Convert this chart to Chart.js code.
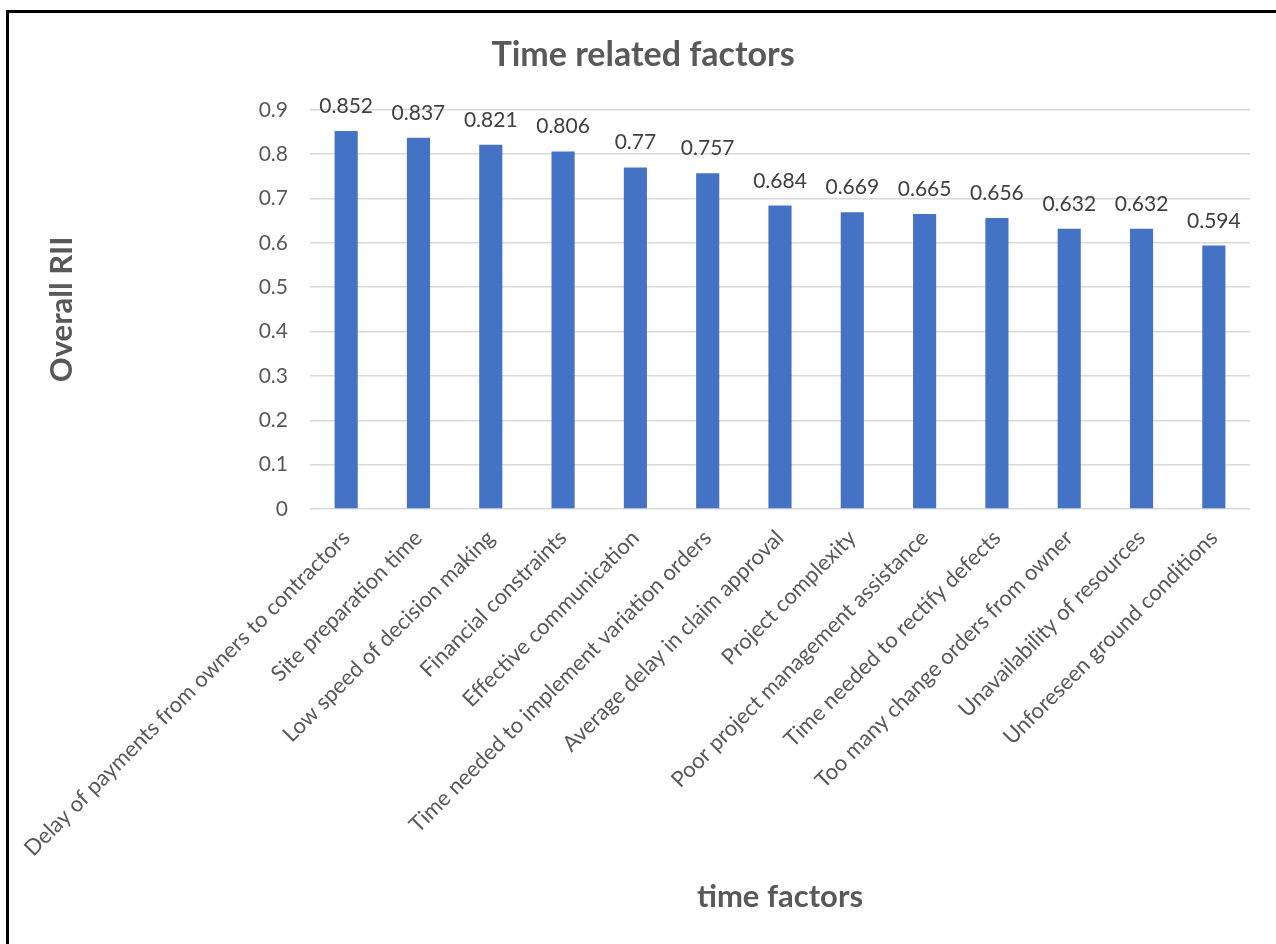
<!DOCTYPE html>
<html>
<head>
<meta charset="utf-8">
<title>Time related factors</title>
<script src="https://cdn.jsdelivr.net/npm/chart.js@4/dist/chart.umd.min.js"></script>
<style>
    html, body { margin: 0; padding: 0; background: #fff; }
    #wrap { position: relative; width: 1276px; height: 944px; }
</style>
</head>
<body>
<div id="wrap"><canvas id="rii"></canvas></div>
<script>
// ── Data ─────────────────────────────────────────────────────────────────────

const FACTORS = [
    "Delay of payments from owners to contractors",
    "Site preparation time",
    "Low speed of decision making",
    "Financial constraints",
    "Effective communication",
    "Time needed to implement variation orders",
    "Average delay in claim approval",
    "Project complexity",
    "Poor project management assistance",
    "Time needed to rectify defects",
    "Too many change orders from owner",
    "Unavailability of resources",
    "Unforeseen ground conditions",
];

const OVERALL_RII = [0.852, 0.837, 0.821, 0.806, 0.77, 0.757, 0.684, 0.669, 0.665, 0.656, 0.632, 0.632, 0.594];

const Y_MIN = 0;
const Y_MAX = 0.9;
const Y_STEP = 0.1;

// ── Styles ───────────────────────────────────────────────────────────────────

const FONT = "Lato, 'Open Sans', sans-serif";
const BAR_BLUE = "#4472c4";
const AXIS_GREY = "#595959";
const GRID_GREY = "#d9d9d9";

// frame lines along the top and left of the figure
const framePlugin = {
    id: "frame",
    beforeDraw(chart) {
        const ctx = chart.ctx;
        ctx.save();
        ctx.fillStyle = "#000";
        ctx.fillRect(6, 10, 3, chart.height - 10);
        ctx.fillRect(6, 10, chart.width - 6, 3);
        ctx.restore();
    },
};

// value printed above every bar
const valueLabels = {
    id: "valueLabels",
    afterDatasetsDraw(chart) {
        const ctx = chart.ctx;
        const meta = chart.getDatasetMeta(0);
        const values = chart.data.datasets[0].data;
        ctx.save();
        ctx.font = `21px ${FONT}`;
        ctx.fillStyle = "#404040";
        ctx.textAlign = "center";
        ctx.textBaseline = "alphabetic";
        meta.data.forEach((bar, i) => {
            ctx.fillText(String(values[i]), bar.x, bar.y - 18);
        });
        ctx.restore();
    },
};

new Chart(document.getElementById("rii"), {
    type: "bar",
    data: {
        labels: FACTORS,
        datasets: [{
            label: "Overall RII",
            data: OVERALL_RII,
            backgroundColor: BAR_BLUE,
            borderWidth: 0,
            barPercentage: 0.32,
            categoryPercentage: 1,
        }],
    },
    options: {
        responsive: true,
        maintainAspectRatio: false,
        animation: false,
        layout: { padding: { top: 0, left: 36, right: 26, bottom: 0 } },
        plugins: {
            legend: { display: false },
            tooltip: { enabled: false },
            title: {
                display: true,
                text: "Time related factors",
                color: AXIS_GREY,
                font: { family: FONT, size: 34, weight: "bold", lineHeight: 1.2 },
                padding: { top: 35, bottom: 34 },
            },
        },
        scales: {
            x: {
                grid: { display: false, drawTicks: false },
                border: { display: false },
                ticks: {
                    autoSkip: false,
                    maxRotation: 45,
                    minRotation: 45,
                    padding: 16,
                    color: AXIS_GREY,
                    font: { family: FONT, size: 22 },
                },
                title: {
                    display: true,
                    text: "time factors",
                    color: AXIS_GREY,
                    font: { family: FONT, size: 31, weight: "bold", lineHeight: 1.2 },
                    padding: { top: 0, bottom: 28 },
                },
                afterFit(scale) {
                    scale.height = 435;
                    scale.paddingLeft = 0;
                    scale.paddingRight = 0;
                },
            },
            y: {
                min: Y_MIN,
                max: Y_MAX,
                grid: { color: GRID_GREY, lineWidth: 1.5, drawTicks: false },
                border: { display: false },
                ticks: {
                    stepSize: Y_STEP,
                    padding: 22,
                    color: AXIS_GREY,
                    font: { family: FONT, size: 21 },
                    callback: (v) => String(+v.toFixed(1)),
                },
                title: {
                    display: true,
                    text: "Overall RII",
                    color: AXIS_GREY,
                    font: { family: FONT, size: 31, weight: "bold", lineHeight: 1.2 },
                    padding: { top: 7, bottom: 0 },
                },
                afterFit(scale) {
                    scale.width = 274;
                },
            },
        },
    },
    plugins: [framePlugin, valueLabels],
});
</script>
</body>
</html>
